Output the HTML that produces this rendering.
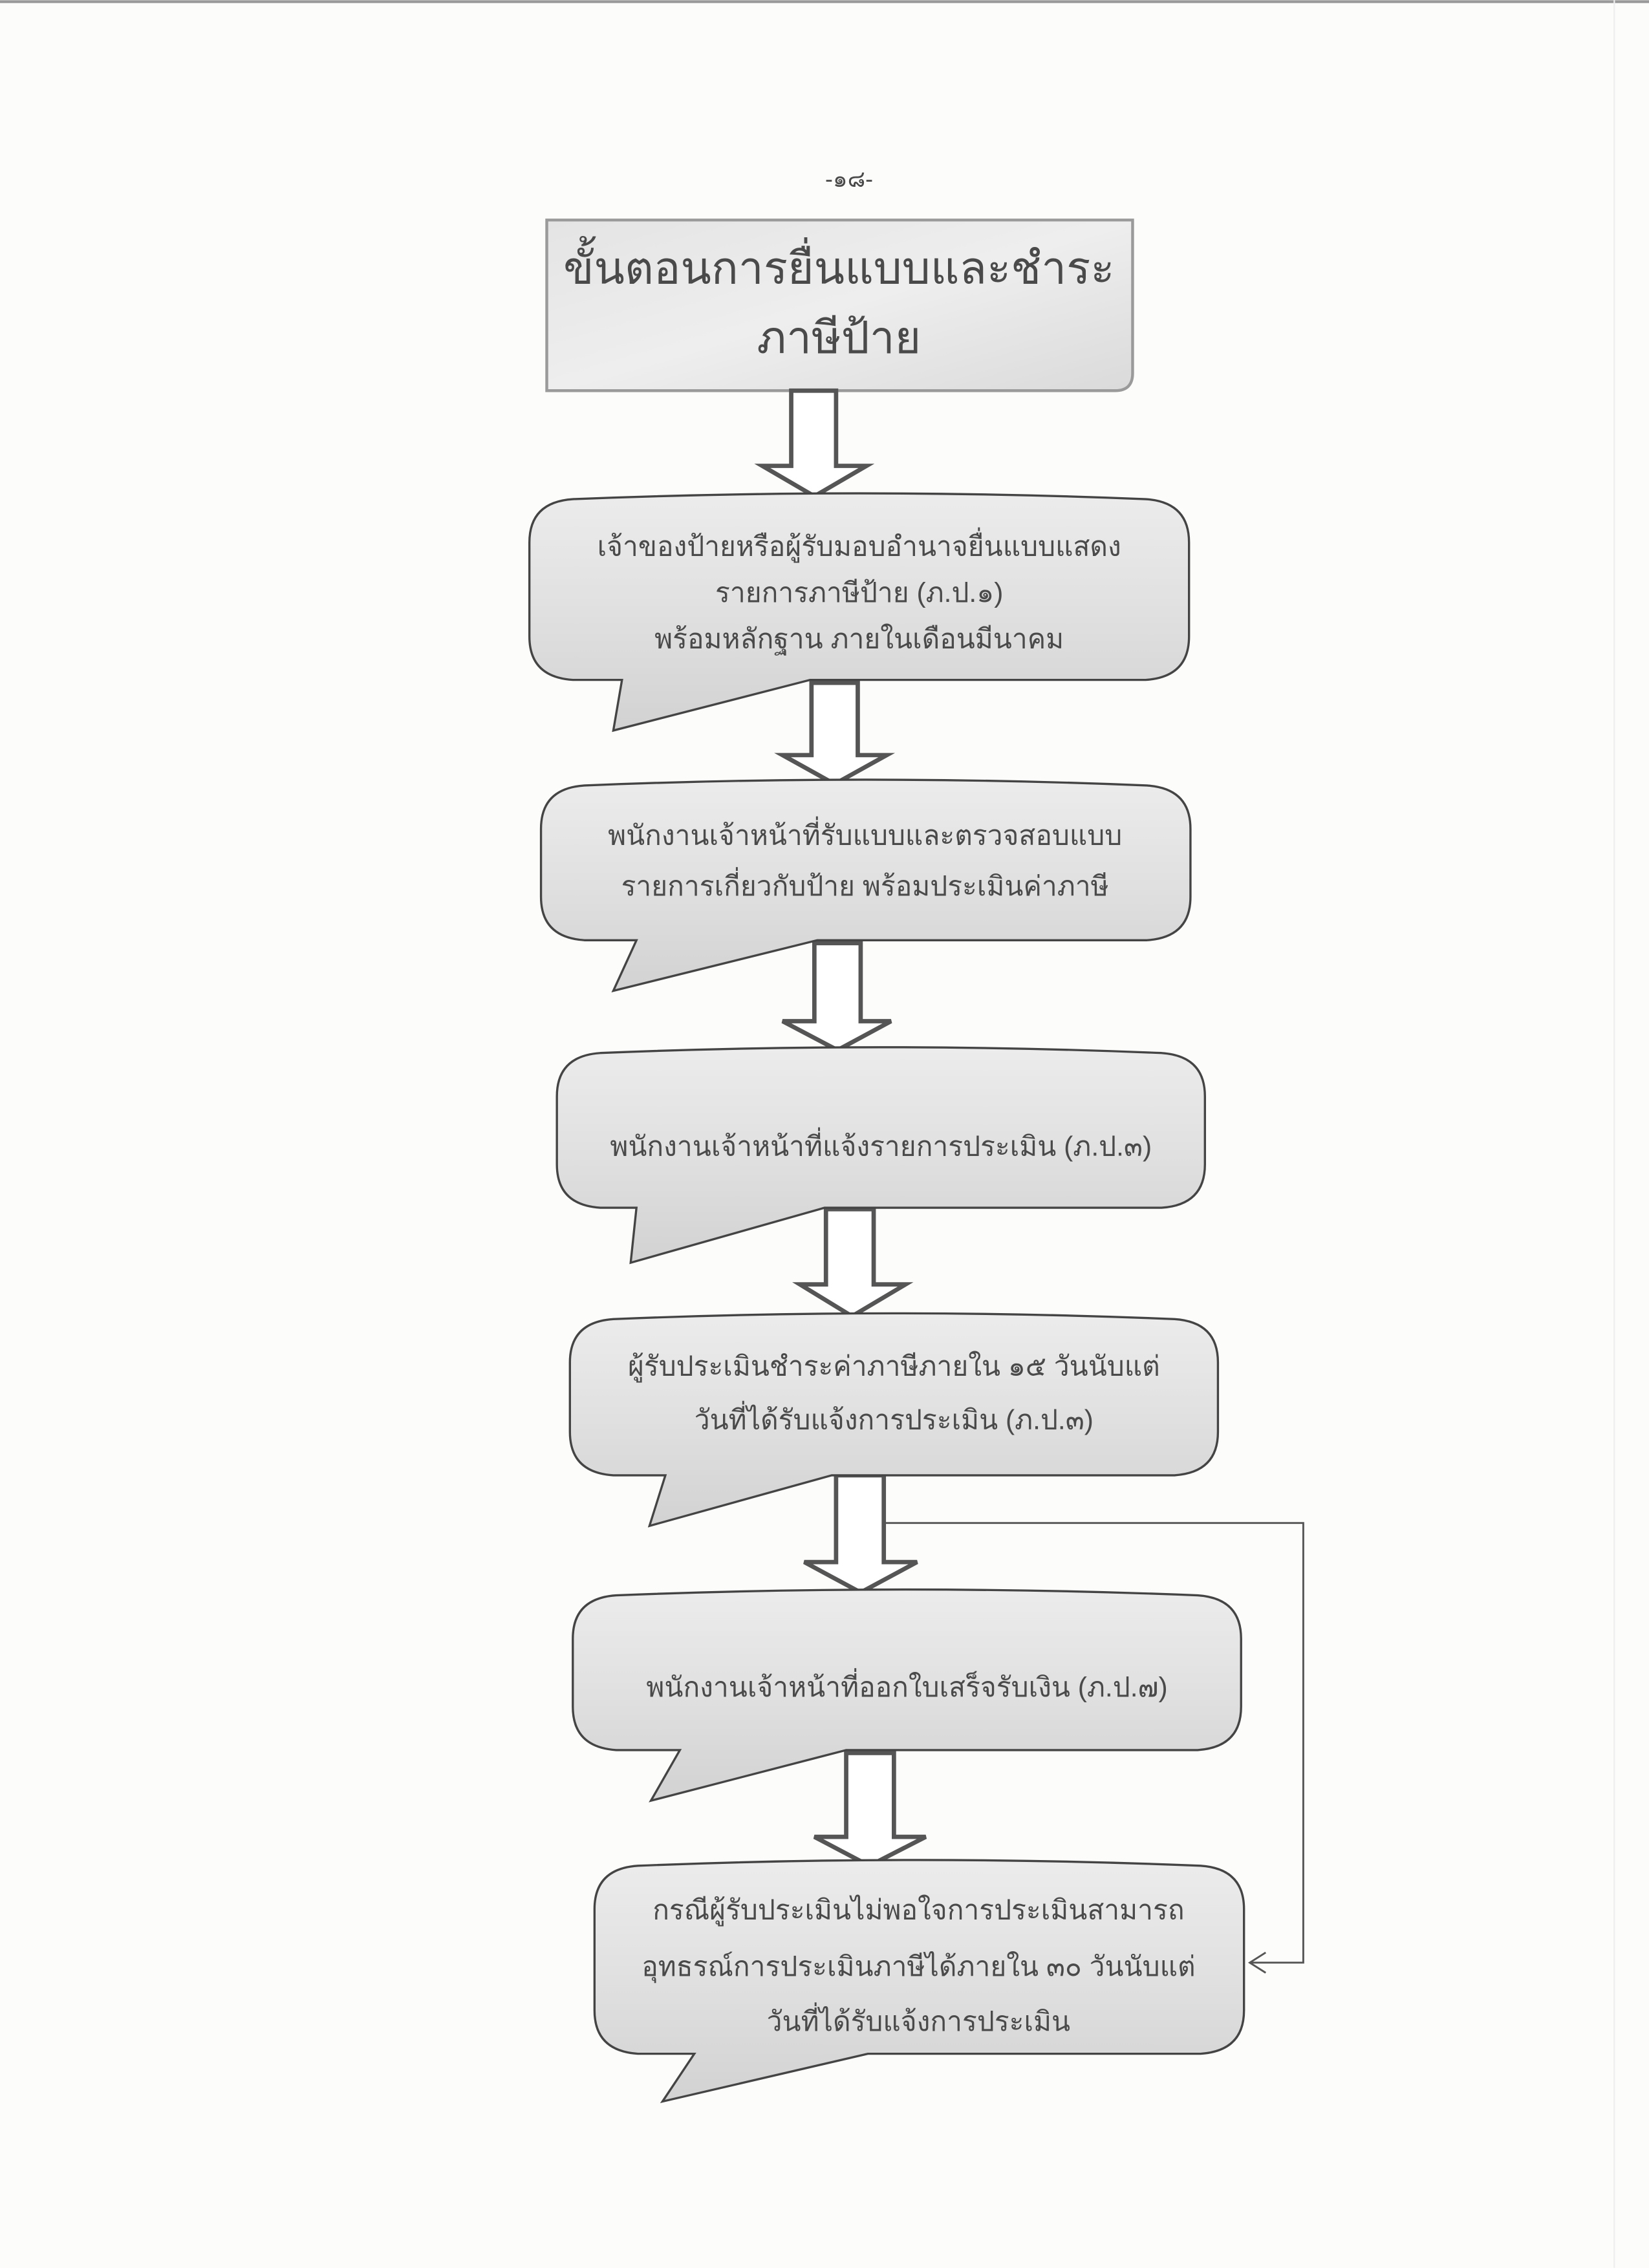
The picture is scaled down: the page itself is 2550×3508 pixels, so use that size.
<!DOCTYPE html>
<html><head><meta charset="utf-8">
<style>
html,body{margin:0;padding:0;background:#fcfcfa;}
svg{display:block;}
text{font-family:"Liberation Sans","DejaVu Sans",sans-serif;fill:#4a4a4a;}
</style></head>
<body>
<svg width="2550" height="3508" viewBox="0 0 1140 1568" xmlns="http://www.w3.org/2000/svg">
<defs>
<linearGradient id="g" x1="0" y1="0" x2="0" y2="1">
<stop offset="0" stop-color="#ececec"/><stop offset="0.5" stop-color="#e0e0e0"/><stop offset="1" stop-color="#d2d2d2"/>
</linearGradient>
<linearGradient id="t" x1="0" y1="0" x2="1" y2="1">
<stop offset="0" stop-color="#e4e4e4"/><stop offset="0.5" stop-color="#eeeeee"/><stop offset="1" stop-color="#dadada"/>
</linearGradient>
</defs>
<rect width="1140" height="1568" fill="#fcfcfa"/>
<line x1="0" y1="1" x2="1140" y2="1" stroke="#999" stroke-width="2"/>
<line x1="1116" y1="0" x2="1116" y2="1568" stroke="#eee" stroke-width="1"/>

<text x="587" y="129" font-size="16" text-anchor="middle">-๑๘-</text>

<!-- title -->
<path d="M378 152 L783 152 L783 258 Q783 270 771 270 L378 270 Z" fill="url(#t)" stroke="#9a9a9a" stroke-width="2"/>
<text x="580" y="196" font-size="31" text-anchor="middle">ขั้นตอนการยื่นแบบและชำระ</text>
<text x="580" y="244" font-size="31" text-anchor="middle">ภาษีป้าย</text>

<g fill="#fff" stroke="#555" stroke-width="3" stroke-linejoin="miter">
<path d="M547 270 L578 270 L578 322 L599 322 L563 343 L527 322 L547 322 Z"/>
<path d="M561 472 L593 472 L593 522 L613 522 L577 542 L541 522 L561 522 Z"/>
<path d="M563 652 L595 652 L595 706 L616 706 L579 726 L541 706 L563 706 Z"/>
<path d="M571 836 L604 836 L604 888 L626 888 L589 910 L553 888 L571 888 Z"/>
<path d="M578 1020 L611 1020 L611 1080 L634 1080 L595 1101 L556 1080 L578 1080 Z"/>
<path d="M585 1212 L618 1212 L618 1270 L640 1270 L601 1290 L563 1270 L585 1270 Z"/>
</g>

<g fill="url(#g)" stroke="#444" stroke-width="1.5">
<path d="M396 345 Q594 337 792 345 Q822 347 822 375 L822 440 Q822 468 792 470 L560 470 L424 505 L430 470 L396 470 Q366 468 366 440 L366 375 Q366 347 396 345 Z"/>
<path d="M404 543 Q598 535 793 543 Q823 545 823 573 L823 620 Q823 648 793 650 L565 650 L424 685 L440 650 L404 650 Q374 648 374 620 L374 573 Q374 545 404 543 Z"/>
<path d="M415 728 Q609 720 803 728 Q833 730 833 758 L833 805 Q833 833 803 835 L570 835 L436 873 L440 835 L415 835 Q385 833 385 805 L385 758 Q385 730 415 728 Z"/>
<path d="M424 912 Q618 904 812 912 Q842 914 842 942 L842 990 Q842 1018 812 1020 L575 1020 L449 1055 L460 1020 L424 1020 Q394 1018 394 990 L394 942 Q394 914 424 912 Z"/>
<path d="M426 1103 Q627 1095 828 1103 Q858 1105 858 1133 L858 1180 Q858 1208 828 1210 L585 1210 L450 1245 L470 1210 L426 1210 Q396 1208 396 1180 L396 1133 Q396 1105 426 1103 Z"/>
<path d="M441 1290 Q635 1282 830 1290 Q860 1292 860 1320 L860 1390 Q860 1418 830 1420 L600 1420 L458 1453 L480 1420 L441 1420 Q411 1418 411 1390 L411 1320 Q411 1292 441 1290 Z"/>
</g>

<g font-size="19" text-anchor="middle">
<text x="594" y="384">เจ้าของป้ายหรือผู้รับมอบอำนาจยื่นแบบแสดง</text>
<text x="594" y="416">รายการภาษีป้าย (ภ.ป.๑)</text>
<text x="594" y="448">พร้อมหลักฐาน  ภายในเดือนมีนาคม</text>
<text x="598" y="584">พนักงานเจ้าหน้าที่รับแบบและตรวจสอบแบบ</text>
<text x="598" y="619">รายการเกี่ยวกับป้าย  พร้อมประเมินค่าภาษี</text>
<text x="609" y="799">พนักงานเจ้าหน้าที่แจ้งรายการประเมิน (ภ.ป.๓)</text>
<text x="618" y="951">ผู้รับประเมินชำระค่าภาษีภายใน ๑๕ วันนับแต่</text>
<text x="618" y="988">วันที่ได้รับแจ้งการประเมิน (ภ.ป.๓)</text>
<text x="627" y="1173">พนักงานเจ้าหน้าที่ออกใบเสร็จรับเงิน (ภ.ป.๗)</text>
<text x="635" y="1327">กรณีผู้รับประเมินไม่พอใจการประเมินสามารถ</text>
<text x="635" y="1366">อุทธรณ์การประเมินภาษีได้ภายใน ๓๐ วันนับแต่</text>
<text x="635" y="1404">วันที่ได้รับแจ้งการประเมิน</text>
</g>

<polyline points="611,1053 901,1053 901,1357 864,1357" fill="none" stroke="#555" stroke-width="1.3"/>
<polyline points="875,1350 864,1357 875,1364" fill="none" stroke="#555" stroke-width="1.3"/>
</svg>
</body></html>
